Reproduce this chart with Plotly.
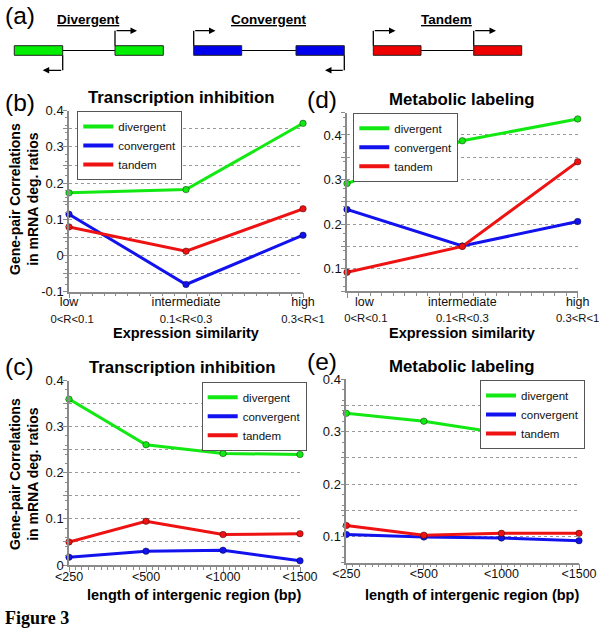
import plotly.graph_objects as go

# ---------------- data ----------------
sim_top = ["low", "intermediate", "high"]
sim_bottom = ["0&lt;R&lt;0.1", "0.1&lt;R&lt;0.3", "0.3&lt;R&lt;1"]
len_labels = ["&lt;250", "&lt;500", "&lt;1000", "&lt;1500"]
series_names = ["divergent", "convergent", "tandem"]

b_div = [0.173, 0.182, 0.365]
b_conv = [0.114, -0.080, 0.056]
b_tan = [0.079, 0.012, 0.129]

d_div = [0.291, 0.387, 0.436]
d_conv = [0.233, 0.151, 0.206]
d_tan = [0.092, 0.150, 0.340]

c_div = [0.360, 0.261, 0.242, 0.240]
c_conv = [0.017, 0.030, 0.032, 0.009]
c_tan = [0.050, 0.095, 0.066, 0.068]

e_div = [0.335, 0.320, 0.297, 0.279]
e_conv = [0.104, 0.099, 0.097, 0.092]
e_tan = [0.121, 0.1025, 0.106, 0.106]

COLORS = {"divergent": "#12e812", "convergent": "#1212ee", "tandem": "#ee1212"}
FONT = "Liberation Sans, Arial, sans-serif"

W, H = 600, 630


def P(x):
    return x / W


def Q(y):
    return 1 - y / H


def sim_ticktext(pad_first=0):
    out = []
    for i, (t, b) in enumerate(zip(sim_top, sim_bottom)):
        p1 = "\u00a0" * (2 * pad_first) if i == 0 else ""
        p2 = "\u00a0" * (2 * pad_first + 2) if i == 0 else ""
        out.append(p1 + t + "<br><span style='font-size:11.3px'>" + p2 + b + "</span>")
    return out


sim_labels_b = sim_ticktext(0)
sim_labels_d = sim_ticktext(5)

fig = go.Figure()

panels = [
    ("x", "y", "legend", sim_labels_b, [b_div, b_conv, b_tan]),
    ("x2", "y2", "legend2", sim_labels_d, [d_div, d_conv, d_tan]),
    ("x3", "y3", "legend3", len_labels, [c_div, c_conv, c_tan]),
    ("x4", "y4", "legend4", len_labels, [e_div, e_conv, e_tan]),
]

for xa, ya, lg, cats, vals in panels:
    xs = list(range(len(cats)))
    for name, v in zip(series_names, vals):
        fig.add_trace(go.Scatter(
            x=xs, y=v, mode="lines+markers", xaxis=xa, yaxis=ya,
            line=dict(color=COLORS[name], width=3),
            marker=dict(color=COLORS[name], size=6.5,
                        line=dict(color="rgba(0,0,0,0.4)", width=1)),
            cliponaxis=False, showlegend=False, hoverinfo="skip"))
    for name in series_names:
        fig.add_trace(go.Scatter(
            x=[None], y=[None], mode="lines", xaxis=xa, yaxis=ya,
            line=dict(color=COLORS[name], width=4), name=name,
            legend=lg, showlegend=True))


def yticks(lo, hi):
    vals, txt = [], []
    n = int(round((hi - lo) / 0.05))
    for i in range(n + 1):
        v = round(lo + i * 0.05, 3)
        vals.append(v)
        if abs(round(v * 10) - v * 10) < 1e-6:
            txt.append("%g" % v)
        else:
            txt.append("")
    return vals, txt


axis_common = dict(showline=True, linecolor="#8a8a8a", linewidth=1.5,
                   ticks="outside", tickcolor="#8a8a8a", ticklen=4,
                   zeroline=False, mirror=False, automargin=False,
                   tickfont=dict(family=FONT, size=12.5, color="#111"))

xdefs = {
    "xaxis": ([69, 303], sim_labels_b, "y"),
    "xaxis2": ([347, 577.7], sim_labels_d, "y2"),
    "xaxis3": ([69, 300], len_labels, "y3"),
    "xaxis4": ([346.3, 579], len_labels, "y4"),
}
ydefs = {
    "yaxis": ([110.7, 291.7], (-0.1, 0.4), "x"),
    "yaxis2": ([112.7, 291], (0.05, 0.45), "x2"),
    "yaxis3": ([380.7, 565], (0.0, 0.4), "x3"),
    "yaxis4": ([379.3, 562.7], (0.05, 0.4), "x4"),
}

lay = {}
for k, (dom, cats, anchor) in xdefs.items():
    n = len(cats)
    lay[k] = dict(axis_common, domain=[P(dom[0]), P(dom[1])], anchor=anchor,
                  range=[0, n - 1], tickmode="array", tickvals=list(range(n)),
                  ticktext=cats, showgrid=False, ticklen=5,
                  ticklabelstandoff=(-7 if n == 3 else -6),
                  minor=dict(ticks="outside", ticklen=3, tickcolor="#8a8a8a",
                             dtick=(0.1 if n == 3 else 1 / 12), showgrid=False))
for k, (dom, rng, anchor) in ydefs.items():
    tv, tt = yticks(rng[0], rng[1])
    lay[k] = dict(axis_common, domain=[Q(dom[1]), Q(dom[0])], anchor=anchor,
                  range=list(rng), tickmode="array", tickvals=tv, ticktext=tt,
                  tickfont=dict(family=FONT, size=13, color="#111"),
                  ticklen=4, ticklabelstandoff=-3,
                  showgrid=True, gridcolor="#9a9a9a", griddash="dot", gridwidth=1,
                  minor=dict(ticks="outside", ticklen=2.5, tickcolor="#8a8a8a",
                             dtick=0.02, tick0=0, showgrid=False))

legend_style = dict(bgcolor="white", bordercolor="#555", borderwidth=1,
                    font=dict(family=FONT, size=11.5, color="#111"),
                    xanchor="left", yanchor="top", tracegroupgap=0,
                    itemwidth=30)
lay["legend"] = dict(legend_style, x=P(77.3), y=Q(111))
lay["legend2"] = dict(legend_style, x=P(353.3), y=Q(112.7))
lay["legend3"] = dict(legend_style, x=P(201.7), y=Q(381.7))
lay["legend4"] = dict(legend_style, x=P(480), y=Q(380))

fig.update_layout(width=W, height=H, margin=dict(l=0, r=0, t=0, b=0),
                  paper_bgcolor="white", plot_bgcolor="white",
                  font=dict(family=FONT, color="#111"), **lay)

# ---------------- text annotations ----------------
ann = []


def text(x, y, s, size, bold=False, fam=FONT, xanchor="center", angle=0):
    ann.append(dict(x=P(x), y=Q(y), xref="paper", yref="paper", text=s,
                    showarrow=False, xanchor=xanchor, yanchor="middle",
                    textangle=angle,
                    font=dict(family=fam, size=size, color="#000",
                              weight=("bold" if bold else "normal"))))


panel_titles = [("Transcription inhibition", 181, 97.5),
                ("Metabolic labeling", 461, 99),
                ("Transcription inhibition", 182, 367),
                ("Metabolic labeling", 461, 366)]
for s, x, y in panel_titles:
    text(x, y, s, 16.8, bold=True)

for s, x, y in [("(a)", 3, 15), ("(b)", 3, 103), ("(c)", 3, 366),
                ("(d)", 305, 99), ("(e)", 305, 361)]:
    text(x, y, s, 24.5, xanchor="left")

for y in (199, 474):
    text(24, y, "Gene-pair Correlations<br>in mRNA deg. ratios", 14, bold=True, angle=-90)

text(186, 333, "Expression similarity", 14.5, bold=True)
text(462, 333, "Expression similarity", 14.5, bold=True)
text(193.5, 594.5, "length of intergenic region (bp)", 14.5, bold=True)
text(471.5, 594.5, "length of intergenic region (bp)", 14.5, bold=True)

text(3, 618, "Figure 3", 18, bold=True,
     fam="Liberation Serif, Times New Roman, serif", xanchor="left")

# ---------------- schematic (a) ----------------
genes_y = (45.7, 55.3)
schematic = [
    ("Divergent", 88, "#00ee00", (14.3, 62.7), (115, 163.3),
     [(115, 45.7, 30.7, 137), (62.7, 55.3, 70.3, 42.7)]),
    ("Convergent", 268.5, "#0000ee", (193.7, 241.7), (296, 344.3),
     [(193.7, 45.7, 30.7, 215.5), (344.3, 55.3, 70.3, 325)]),
    ("Tandem", 446, "#ee0000", (373.3, 421), (473.7, 521.7),
     [(373.3, 45.7, 30.7, 395.5), (473.7, 45.7, 30.7, 496)]),
]
shapes = []
for title, cx, col, r1, r2, arrows in schematic:
    text(cx, 19.5, "<u>" + title + "</u>", 13.5, bold=True)
    shapes.append(dict(type="line", xref="paper", yref="paper",
                       x0=P(r1[1]), x1=P(r2[0]), y0=Q(50.5), y1=Q(50.5),
                       line=dict(color="#000", width=1.2)))
    for r in (r1, r2):
        shapes.append(dict(type="rect", xref="paper", yref="paper",
                           x0=P(r[0]), x1=P(r[1]), y0=Q(genes_y[1]), y1=Q(genes_y[0]),
                           fillcolor=col, line=dict(color="#222", width=1)))
    for x0, y0, yb, xe in arrows:
        shapes.append(dict(type="line", xref="paper", yref="paper",
                           x0=P(x0), x1=P(x0), y0=Q(y0), y1=Q(yb),
                           line=dict(color="#000", width=1.3)))
        ann.append(dict(x=P(xe), y=Q(yb), xref="paper", yref="paper",
                        ax=x0 - xe, ay=0, axref="pixel", ayref="pixel",
                        text="", showarrow=True, arrowhead=2, arrowsize=1,
                        arrowwidth=1.3, arrowcolor="#000", standoff=0,
                        startstandoff=0))

fig.update_layout(annotations=ann, shapes=shapes)
fig.write_html("out.html", config={"displayModeBar": False},
               post_script="document.body.style.margin='0';"
                           "document.body.style.overflow='hidden';")
